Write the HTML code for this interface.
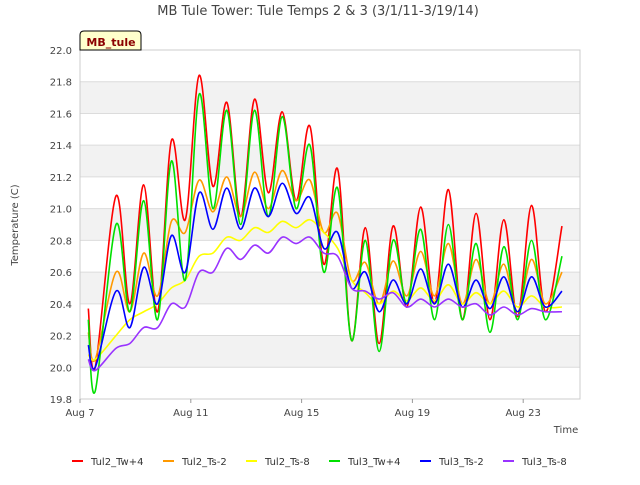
<!DOCTYPE html>
<html><head><meta charset="utf-8"><style>
body{margin:0;background:#fff;font-family:"Liberation Sans","DejaVu Sans",sans-serif}
svg text{font-family:"DejaVu Sans","Liberation Sans",sans-serif}
</style></head><body>
<svg id="chart" width="640" height="480" xmlns="http://www.w3.org/2000/svg">
<text x="318" y="15" text-anchor="middle" font-size="13" fill="#444">MB Tule Tower: Tule Temps 2 &amp; 3 (3/1/11-3/19/14)</text>
<g id="grid"></g>
<g id="series"></g>
<g><path d="M80,50 L80,35 Q80,31 84,31 L137,31 Q141,31 141,35 L141,50 Z" fill="#ffffcc" stroke="#000" stroke-width="1"/>
<text x="111" y="46" text-anchor="middle" font-size="11" font-weight="bold" fill="#8b0000">MB_tule</text></g>
<text x="566" y="433" text-anchor="middle" font-size="10" fill="#444">Time</text>
<text transform="translate(18,225) rotate(-90)" text-anchor="middle" font-size="10" fill="#444">Temperature (C)</text>
<g id="legend"></g>
</svg>
<script>
const days=[0.3,0.55,1.3,1.8,2.3,2.8,3.3,3.8,4.3,4.8,5.3,5.8,6.3,6.8,7.3,7.8,8.3,8.8,9.3,9.8,10.3,10.8,11.3,11.8,12.3,12.8,13.3,13.8,14.3,14.8,15.3,15.8,16.3,16.8,17.4];
const tul2Tw4=[20.37,20.0,21.08,20.4,21.15,20.35,21.43,20.93,21.84,21.14,21.67,20.95,21.69,21.1,21.61,21.05,21.52,20.65,21.25,20.17,20.88,20.15,20.89,20.38,21.01,20.4,21.12,20.3,20.97,20.3,20.93,20.32,21.02,20.35,20.89];
const tul2Ts2=[20.22,20.05,20.6,20.35,20.72,20.45,20.92,20.85,21.18,20.98,21.2,20.95,21.23,21.0,21.24,21.05,21.18,20.85,20.97,20.55,20.66,20.4,20.67,20.45,20.73,20.45,20.78,20.4,20.68,20.4,20.65,20.35,20.68,20.4,20.6];
const tul2Ts8=[20.08,20.05,20.2,20.3,20.35,20.4,20.5,20.55,20.7,20.72,20.82,20.8,20.88,20.85,20.92,20.88,20.93,20.85,20.75,20.55,20.47,20.4,20.48,20.42,20.5,20.42,20.52,20.4,20.47,20.4,20.48,20.38,20.45,20.38,20.38];
const tul3Tw4=[20.3,19.85,20.9,20.35,21.05,20.3,21.3,20.55,21.72,21.0,21.62,20.9,21.62,20.95,21.58,21.0,21.4,20.6,21.13,20.17,20.8,20.1,20.8,20.4,20.87,20.3,20.9,20.3,20.78,20.22,20.76,20.3,20.8,20.3,20.7];
const tul3Ts2=[20.14,20.0,20.48,20.25,20.63,20.4,20.83,20.6,21.1,20.87,21.13,20.87,21.13,20.95,21.16,20.97,21.07,20.75,20.85,20.5,20.6,20.35,20.55,20.4,20.62,20.4,20.65,20.38,20.55,20.37,20.57,20.35,20.57,20.38,20.48];
const tul3Ts8=[20.05,19.98,20.12,20.15,20.25,20.25,20.4,20.38,20.6,20.6,20.75,20.68,20.77,20.72,20.82,20.78,20.82,20.72,20.7,20.5,20.48,20.43,20.47,20.38,20.43,20.38,20.43,20.38,20.4,20.33,20.38,20.33,20.37,20.35,20.35];
const seriesNames=["Tul2_Tw+4","Tul2_Ts-2","Tul2_Ts-8","Tul3_Tw+4","Tul3_Ts-2","Tul3_Ts-8"];
const yTicks=[19.8,20.0,20.2,20.4,20.6,20.8,21.0,21.2,21.4,21.6,21.8,22.0];
const xTickDays=[0,4,8,12,16];
const xTickLabels=["Aug 7","Aug 11","Aug 15","Aug 19","Aug 23"];
const allSeries=[tul2Tw4,tul2Ts2,tul2Ts8,tul3Tw4,tul3Ts2,tul3Ts8];
const colors=["#ff0000","#ff9900","#ffff00","#00e000","#0000ff","#9933ff"];
const NS="http://www.w3.org/2000/svg";
const L=80,R=580,T=50,B=399;
function xs(d){return L+d*27.7;}
function ys(v){return B-(v-19.8)/2.2*(B-T);}
function mk(tag,attrs,parent){const e=document.createElementNS(NS,tag);for(const k in attrs)e.setAttribute(k,attrs[k]);parent.appendChild(e);return e;}
const grid=document.getElementById('grid');
for(let i=0;i<yTicks.length-1;i++){if(i%2===1){const r=mk('rect',{x:L,y:ys(yTicks[i+1]),width:R-L,height:ys(yTicks[i])-ys(yTicks[i+1]),fill:'#f2f2f2'},grid);

}}
yTicks.forEach(v=>{const l=mk('line',{x1:L,x2:R,y1:ys(v),y2:ys(v),stroke:'#dcdcdc'},grid);


const t=mk('text',{x:L-8,y:ys(v)+4,'text-anchor':'end','font-size':'10',fill:'#444'},grid);t.textContent=v.toFixed(1);

});
mk('rect',{x:L,y:T,width:R-L,height:B-T,fill:'none',stroke:'#ccc'},grid);
xTickDays.forEach((d,i)=>{mk('line',{x1:xs(d),x2:xs(d),y1:B,y2:B+4,stroke:'#999'},grid);
const t=mk('text',{x:xs(d),y:B+17,'text-anchor':'middle','font-size':'10',fill:'#444'},grid);t.textContent=xTickLabels[i];

});
function path(vals){const p=days.map((d,i)=>[xs(d),ys(vals[i])]);let s='M'+p[0][0]+','+p[0][1];
for(let i=0;i<p.length-1;i++){const p0=p[Math.max(0,i-1)],p1=p[i],p2=p[i+1],p3=p[Math.min(p.length-1,i+2)];
s+=` C${p1[0]+(p2[0]-p0[0])/6},${p1[1]+(p2[1]-p0[1])/6} ${p2[0]-(p3[0]-p1[0])/6},${p2[1]-(p3[1]-p1[1])/6} ${p2[0]},${p2[1]}`;}return s;}
const sg=document.getElementById('series');
allSeries.forEach((vals,i)=>{const e=mk('path',{d:path(vals),fill:'none',stroke:colors[i],'stroke-width':'1.6'},sg);

});
const lg=document.getElementById('legend');
const lx=[72,163,246,329,420,503];
seriesNames.forEach((n,i)=>{const g=mk('g',{},lg);


mk('line',{x1:lx[i],x2:lx[i]+11,y1:461,y2:461,stroke:colors[i],'stroke-width':'2'},g);
const t=mk('text',{x:lx[i]+19,y:465,'font-size':'10',fill:'#333'},g);t.textContent=n;});
</script>
</body></html>
